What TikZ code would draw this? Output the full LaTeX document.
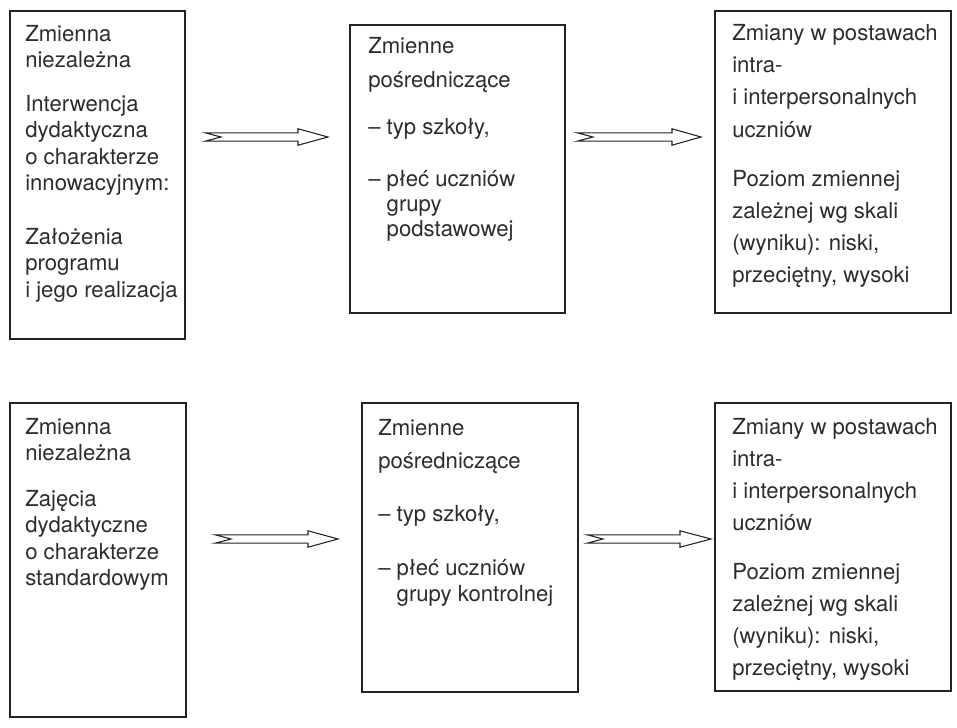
\documentclass[tikz,border=0pt]{standalone}
\usepackage{fontspec}
\setmainfont{TeX Gyre Heros}
\usetikzlibrary{calc,fit}
\definecolor{ink}{RGB}{35,35,35}
\definecolor{textink}{RGB}{45,45,45}
\newcommand\hollowarrow[3]{%
  \draw[hollow] ($(#1)+(0,-4.2)$) -- ($(#2)+(-#3,-4.2)$) -- ($(#2)+(-#3,-8.2)$) -- (#2)
    -- ($(#2)+(-#3,8.2)$) -- ($(#2)+(-#3,4.2)$) -- ($(#1)+(0,4.2)$) -- ($(#1)+(16,0)$) -- cycle;}
\newcommand\textlines[3]{%
  \foreach \yy/\tx [count=\i] in {#3} {\node[txt] (#1-\i) at (#2,\yy) {\tx};}}
\begin{document}
\begin{tikzpicture}[x=0.75pt,y=-0.75pt,
  box/.style={draw=ink,line width=1pt,inner sep=0pt},
  txt/.style={text=textink,inner sep=0pt,font=\fontsize{16.6pt}{20pt}\selectfont,anchor=base west},
  hollow/.style={draw=ink,line width=0.8pt,fill=white,line join=miter}]
\useasboundingbox[fill=white] (0,0) rectangle (957,728);
% boxes
\node[box,fit={(10,11) (185,339)}] (t1) {};
\node[box,fit={(350,25) (565,313)}] (t2) {};
\node[box,fit={(715,11) (951,313)}] (t3) {};
\node[box,fit={(10,403) (186,717)}] (b1) {};
\node[box,fit={(362,403) (578,692)}] (b2) {};
\node[box,fit={(715,403) (951,691)}] (b3) {};
% texts
\textlines{t1t}{25}{41/Zmienna,67.5/niezależna,111/Interwencja,137.5/dydaktyczna,164/o charakterze,190.5/innowacyjnym:,244/Założenia,270.5/programu,297/i jego realizacja}
\textlines{t2t}{368}{53/Zmienne,87/pośredniczące,134/{– typ szkoły,},186/– płeć uczniów,211/\phantom{– }grupy,236/\phantom{– }podstawowej}
\textlines{t3t}{732}{40/Zmiany w postawach,72/intra-,104/i interpersonalnych,137/uczniów,186/Poziom zmiennej,218/zależnej wg skali,250/{(wyniku): niski,},282/{przeciętny, wysoki}}
\textlines{b1t}{25}{434/Zmienna,460.5/niezależna,506/Zajęcia,532.5/dydaktyczne,559/o charakterze,585.5/standardowym}
\textlines{b2t}{378}{435/Zmienne,468/pośredniczące,521/{– typ szkoły,},575/– płeć uczniów,601/\phantom{– }grupy kontrolnej}
\textlines{b3t}{732}{434/Zmiany w postawach,466/intra-,498/i interpersonalnych,530/uczniów,579/Poziom zmiennej,611/zależnej wg skali,643/{(wyniku): niski,},675/{przeciętny, wysoki}}
% arrows
\coordinate (a1t) at (205,137); \coordinate (a1h) at (328,137);
\coordinate (a2t) at (577,137); \coordinate (a2h) at (701,137);
\coordinate (a3t) at (215,539); \coordinate (a3h) at (338,539);
\coordinate (a4t) at (587,539); \coordinate (a4h) at (711,539);
\hollowarrow{a1t}{a1h}{30}
\hollowarrow{a2t}{a2h}{29}
\hollowarrow{a3t}{a3h}{30}
\hollowarrow{a4t}{a4h}{31}
\end{tikzpicture}
\end{document}
